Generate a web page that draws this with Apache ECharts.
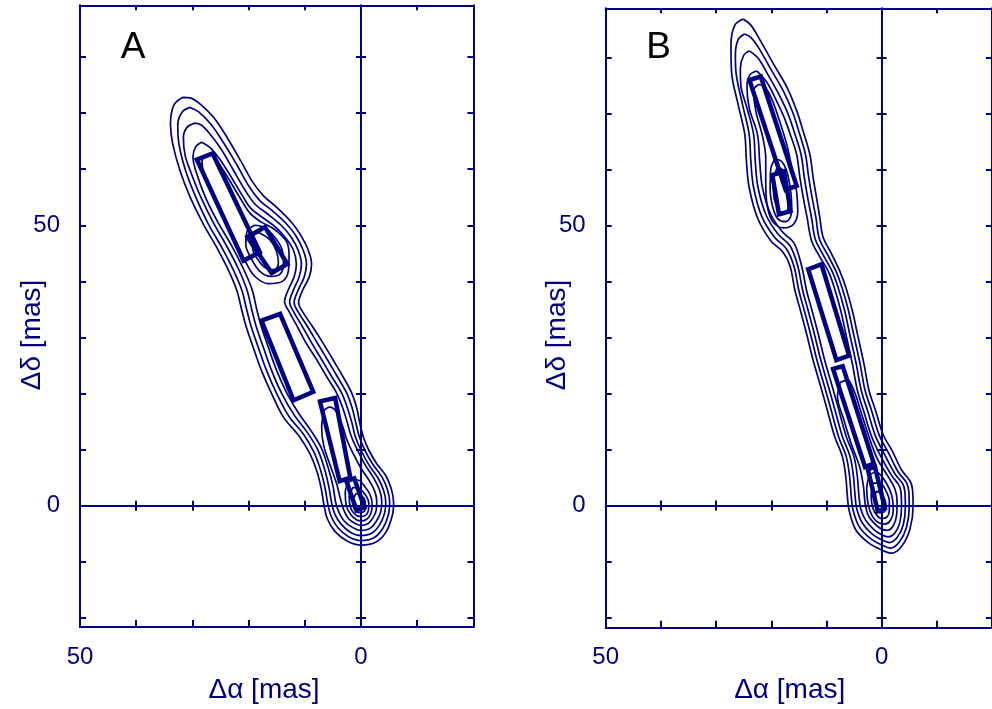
<!DOCTYPE html>
<html>
<head>
<meta charset="utf-8">
<script src="https://cdn.jsdelivr.net/npm/echarts@6/dist/echarts.min.js"></script>
<style>
html, body { margin: 0; padding: 0; background: #fff; overflow: hidden; }
#chart { width: 992px; height: 709px; }
</style>
</head>
<body>
<div id="chart"></div>
<script>
// Axis scales (mas); the right-ascension offset grows to the left
const xRange = [-20, 50];
const yRangeA = [-21.6, 89.2];
const yRangeB = [-21.8, 88.8];
const xTicks = [-20, -10, 0, 10, 20, 30, 40, 50];
const yTicks = [-20, -10, 0, 10, 20, 30, 40, 50, 60, 70, 80];
const xTickLabels = [50, 0];
const yTickLabels = [0, 50];
const panelNames = ['A', 'B'];
const xTitle = 'Δα [mas]';
const yTitle = 'Δδ [mas]';

// ---------- Panel A: model components (corner points, [Δα, Δδ] in mas) ----------
const compA1 = [[29.2, 61.7], [26.4, 62.8], [18.0, 45.2], [20.9, 43.7]];
const compA2 = [[20.2, 47.9], [17.1, 49.7], [13.1, 43.1], [15.9, 41.5]];
const compA3 = [[17.7, 33.0], [14.4, 34.2], [8.5, 20.3], [12.0, 18.8]];
const compA4 = [[7.3, 18.6], [4.6, 19.2], [1.9, 5.0], [3.8, 4.4]];
const compA5 = [[2.6, 4.4], [1.2, 4.9], [-0.6, -0.3], [0.8, -0.8]];

// ---------- Panel A: brightness contours ----------
const contA1 = [[31.7,72.8],[33.3,71.4],[33.9,68.0],[33.5,64.5],[32.2,59.7],[30.4,55.0],[28.1,50.3],[25.7,46.1],[23.6,42.0],[22.1,38.4],[21.2,34.8],[20.4,31.8],[19.2,28.3],[17.7,24.1],[15.9,20.0],[13.8,15.8],[11.0,12.4],[9.1,9.3],[7.9,6.3],[7.1,3.2],[6.6,0.2],[6.0,-2.3],[4.6,-4.6],[2.4,-6.3],[0,-7.0],[-2.6,-6.5],[-4.5,-4.6],[-5.6,-1.6],[-5.8,0.6],[-5.4,3.0],[-4.4,5.4],[-2.8,7.5],[-1.4,9.9],[-0.4,12.3],[0.2,14.7],[0.8,17.6],[1.7,20.2],[3.2,23.0],[4.9,25.9],[6.7,28.9],[8.6,31.9],[10.4,34.6],[11.1,36.2],[10.4,38.4],[9.2,40.8],[8.8,43.1],[9.4,45.6],[10.9,48.5],[12.6,50.8],[15.0,53.2],[17.3,55.2],[19.2,57.6],[21.3,61.3],[23.8,65.6],[26.2,69.2],[28.6,71.6],[30.4,72.7],[31.7,72.8]];
const contA2 = [[30.4,71.0],[31.8,70.2],[32.6,68.0],[32.4,64.5],[31.2,59.7],[29.4,55.0],[27.2,50.3],[24.8,46.1],[22.7,42.0],[21.2,38.4],[20.3,34.8],[19.5,31.8],[18.3,28.3],[16.8,24.1],[15.0,20.0],[12.8,15.9],[10.2,12.7],[8.4,9.6],[7.2,6.4],[6.4,3.2],[5.9,0.3],[5.3,-1.9],[4.1,-3.9],[2.2,-5.5],[0,-6.2],[-2.3,-5.7],[-3.9,-4.0],[-4.9,-1.5],[-5.1,0.6],[-4.7,2.9],[-3.7,5.2],[-2.1,7.4],[-0.7,9.9],[0.3,12.3],[0.9,14.7],[1.6,17.5],[2.6,20.2],[4.2,23.0],[5.9,25.9],[7.7,28.9],[9.5,31.9],[11.2,34.6],[11.9,36.2],[11.2,38.4],[10.1,40.8],[9.7,43.1],[10.3,45.6],[11.7,48.3],[13.4,50.4],[15.8,52.6],[18.0,54.4],[19.9,56.9],[22.0,60.6],[24.4,64.6],[26.7,68.0],[28.9,70.2],[30.4,71.0]];
const contA3 = [[29.6,68.2],[31.0,67.4],[31.6,65.6],[31.3,62.5],[30.3,59.5],[28.5,55.0],[26.3,50.5],[23.9,46.3],[21.8,42.2],[20.3,38.5],[19.4,34.8],[18.6,31.8],[17.4,28.3],[15.9,24.1],[14.1,20.0],[11.9,16.2],[9.5,13.0],[7.7,10.0],[6.5,6.6],[5.7,3.3],[5.2,0.4],[4.6,-1.6],[3.5,-3.3],[1.9,-4.7],[0,-5.3],[-1.9,-4.9],[-3.3,-3.4],[-4.2,-1.3],[-4.4,0.7],[-4.0,2.8],[-3.0,5.0],[-1.4,7.3],[0.0,9.9],[1.0,12.3],[1.6,14.7],[2.4,17.4],[3.5,20.2],[5.2,23.0],[6.9,25.9],[8.7,28.9],[10.4,31.9],[12.0,34.6],[12.7,36.3],[12.0,38.5],[11.0,40.8],[10.6,43.1],[11.2,45.6],[12.5,48.0],[14.2,50.0],[16.6,52.0],[18.8,53.7],[20.6,56.2],[22.7,59.8],[24.9,63.6],[27.0,66.4],[28.5,67.9],[29.6,68.2]];
const contA4 = [[28.4,64.8],[29.4,64.0],[29.9,62.2],[29.4,59.7],[27.7,55.0],[25.5,50.6],[23.1,46.5],[21.0,42.4],[19.4,38.6],[18.5,34.8],[17.7,31.8],[16.5,28.3],[15.0,24.1],[13.2,20.1],[11.1,16.5],[8.9,13.4],[7.1,10.4],[5.9,7.0],[5.0,3.6],[4.5,0.6],[3.9,-1.2],[3.0,-2.7],[1.6,-3.8],[0,-4.4],[-1.5,-4.1],[-2.7,-2.8],[-3.5,-1.1],[-3.7,0.8],[-3.3,2.8],[-2.3,4.9],[-0.8,7.2],[0.6,9.9],[1.7,12.3],[2.4,14.7],[3.2,17.3],[4.4,20.2],[6.1,23.0],[7.8,25.9],[9.7,28.9],[11.3,31.9],[12.8,34.6],[13.6,36.4],[12.9,38.6],[11.9,40.8],[11.5,43.1],[12.0,45.5],[13.3,47.6],[15.0,49.5],[17.4,51.3],[19.6,53.0],[21.3,55.6],[23.1,58.6],[25.0,61.6],[26.8,63.8],[28.4,64.8]];
const contA5 = [[27.6,62.6],[28.3,61.4],[27.9,59.0],[26.2,55.0],[24.3,51.0],[22.3,47.2],[20.6,43.6],[19.0,41.0],[16.5,39.6],[14.0,40.0],[12.9,42.0],[12.8,44.5],[13.2,47.0],[15.3,49.2],[17.8,50.6],[19.8,52.2],[21.6,55.0],[23.5,58.2],[25.3,61.0],[26.6,62.6],[27.6,62.6]];
const contA6 = [[19.0,50.0],[20.3,48.8],[20.5,46.6],[19.5,44.0],[18.0,41.8],[16.0,40.9],[14.4,41.3],[13.8,43.0],[14.0,45.5],[15.3,47.8],[17.2,49.6],[19.0,50.0]];
const contA7 = [[18.2,48.7],[19.3,47.8],[19.3,46.0],[18.3,43.8],[16.8,42.3],[15.3,42.1],[14.7,43.4],[15.1,45.5],[16.2,47.4],[18.2,48.7]];
const contA8 = [[6.6,17.0],[7.0,14.0],[6.6,10.6],[5.4,7.0],[4.3,3.8],[3.6,1.0],[3.0,-0.9],[2.2,-2.3],[1.1,-3.1],[0,-3.5],[-1.2,-3.2],[-2.1,-2.2],[-2.7,-0.8],[-2.8,0.9],[-2.4,2.7],[-1.4,4.6],[0.0,6.7],[1.5,9.5],[2.6,12.0],[3.3,14.3],[4.4,16.8],[5.6,17.6],[6.6,17.0]];
const contA9 = [[1.9,4.6],[2.8,2.5],[2.6,0.0],[1.8,-1.6],[0.8,-2.5],[0,-2.7],[-1.0,-2.4],[-1.7,-1.5],[-2.0,0.0],[-1.7,1.8],[-0.7,3.4],[0.6,4.6],[1.9,4.6]];
const contA10 = [[1.4,3.3],[2.1,1.6],[1.9,-0.2],[1.2,-1.4],[0.2,-1.9],[-0.8,-1.7],[-1.3,-0.9],[-1.4,0.4],[-0.9,1.8],[0.2,3.0],[1.4,3.3]];
const contA11 = [[0.9,2.2],[1.4,0.9],[1.2,-0.5],[0.4,-1.2],[-0.4,-1.1],[-0.8,-0.3],[-0.7,0.9],[-0.1,1.8],[0.9,2.2]];

// ---------- Panel B: model components ----------
const compB1 = [[23.95, 76.0], [21.9, 76.6], [15.4, 57.1], [17.4, 56.4]];
const compB2 = [[19.8, 59.0], [17.7, 59.7], [16.5, 52.6], [18.6, 52.0]];
const compB3 = [[13.3, 42.2], [10.9, 43.1], [5.9, 26.8], [8.2, 26.0]];
const compB4 = [[8.8, 24.4], [7.05, 24.9], [1.4, 7.5], [3.0, 6.9]];
const compB5 = [[2.5, 6.5], [1.2, 6.9], [-0.6, -0.5], [0.7, -1.0]];

// ---------- Panel B: brightness contours ----------
const contB1 = [[25.1,86.9],[26.6,85.8],[27.3,82.3],[27.2,77.5],[26.0,71.6],[24.8,66.3],[24.5,61.5],[24.0,56.8],[22.5,51.4],[20.1,47.3],[17.9,45.3],[16.6,42.8],[15.7,38.4],[14.7,34.8],[13.6,30.7],[12.4,25.9],[11.2,21.8],[10.0,17.6],[8.5,12.3],[7.1,8.7],[6.5,5.2],[6.2,1.6],[5.9,-0.8],[4.7,-4.3],[2.3,-6.7],[0,-7.9],[-1.8,-8.5],[-3.6,-7.3],[-5.1,-4.3],[-5.7,-0.2],[-5.6,2.8],[-5.2,4.3],[-3.6,6.4],[-1.85,9.9],[-0.3,12.6],[1.1,17.0],[2.3,20.6],[3.2,25.3],[4.4,30.7],[5.3,34.8],[6.5,39.0],[7.6,41.9],[9.1,45.0],[10.6,47.9],[11.2,51.4],[11.8,55.0],[12.4,58.5],[13.0,62.7],[14.2,66.8],[15.35,70.4],[17.1,74.6],[19.5,78.7],[21.9,82.9],[23.7,85.8],[25.1,86.9]];
const contB2 = [[24.85,84.2],[26.0,83.2],[26.5,80.5],[26.4,77.5],[25.2,71.6],[24.0,66.3],[23.7,61.5],[23.2,56.8],[21.7,51.6],[19.4,47.9],[17.3,45.9],[15.9,42.8],[15.0,38.4],[14.0,34.8],[12.9,30.7],[11.7,25.9],[10.5,21.8],[9.3,17.6],[7.8,12.3],[6.4,8.7],[5.8,5.2],[5.5,1.6],[5.2,-0.7],[4.1,-3.7],[2.0,-5.9],[0,-7.0],[-1.6,-7.6],[-3.2,-6.5],[-4.5,-3.9],[-5.0,-0.2],[-4.9,2.7],[-4.5,4.1],[-3.0,6.0],[-1.2,9.5],[0.4,12.5],[1.8,16.9],[3.0,20.6],[3.9,25.3],[5.1,30.7],[6.0,34.8],[7.2,39.0],[8.3,41.9],[9.8,44.8],[11.3,47.7],[11.9,51.4],[12.6,55.0],[13.2,58.5],[13.8,62.7],[15.0,66.8],[16.1,70.2],[17.8,74.0],[20.0,77.8],[22.2,81.6],[23.7,83.6],[24.85,84.2]];
const contB3 = [[23.96,81.2],[25.0,80.4],[25.6,78.0],[25.5,75.0],[24.4,71.0],[23.2,66.3],[22.9,61.5],[22.4,56.8],[20.9,51.8],[18.7,48.4],[16.6,46.4],[15.2,42.8],[14.3,38.4],[13.3,34.8],[12.2,30.7],[11.0,25.9],[9.8,21.8],[8.6,17.6],[7.1,12.3],[5.7,8.7],[5.1,5.2],[4.8,1.6],[4.5,-0.6],[3.5,-3.1],[1.7,-5.1],[0,-6.1],[-1.4,-6.6],[-2.8,-5.7],[-3.9,-3.5],[-4.3,-0.2],[-4.2,2.6],[-3.8,3.9],[-2.4,5.7],[-0.5,9.2],[1.1,12.4],[2.5,16.8],[3.7,20.6],[4.6,25.3],[5.8,30.7],[6.7,34.8],[7.9,39.0],[9.0,41.9],[10.5,44.6],[12.0,47.5],[12.7,51.4],[13.4,55.0],[14.0,58.5],[14.6,62.7],[15.8,66.6],[16.9,69.8],[18.5,73.2],[20.4,76.6],[22.3,79.8],[23.96,81.2]];
const contB4 = [[22.6,77.6],[23.8,77.0],[24.4,75.0],[24.0,71.0],[22.5,66.3],[22.1,61.5],[21.6,56.8],[20.1,52.0],[18.0,48.9],[15.9,46.9],[14.5,42.8],[13.6,38.4],[12.6,34.8],[11.5,30.7],[10.3,25.9],[9.1,21.8],[7.9,17.6],[6.4,12.3],[5.0,8.7],[4.4,5.2],[4.1,1.6],[3.8,-0.5],[2.9,-2.6],[1.4,-4.3],[0,-5.2],[-1.2,-5.6],[-2.4,-4.9],[-3.3,-3.0],[-3.6,-0.2],[-3.5,2.5],[-3.1,3.7],[-1.8,5.4],[0.2,8.9],[1.8,12.3],[3.2,16.7],[4.4,20.6],[5.3,25.3],[6.5,30.7],[7.4,34.8],[8.6,39.0],[9.7,41.9],[11.2,44.4],[12.7,47.3],[13.5,51.4],[14.2,55.0],[14.8,58.5],[15.4,62.7],[16.6,66.4],[17.7,69.4],[19.2,72.6],[20.8,75.6],[22.6,77.6]];
const contB5 = [[22.3,75.2],[23.2,74.2],[22.8,70.5],[21.6,66.0],[21.0,62.0],[21.0,58.0],[20.8,54.0],[19.8,50.8],[17.8,49.6],[16.0,50.2],[15.2,52.5],[15.4,56.0],[16.2,60.0],[17.2,64.5],[18.6,69.0],[20.0,72.8],[21.2,74.8],[22.3,75.2]];
const contB6 = [[19.4,61.8],[20.1,60.0],[20.2,56.5],[19.7,53.2],[18.8,51.2],[17.4,50.7],[16.5,51.6],[16.3,53.8],[16.6,57.0],[17.3,60.0],[18.3,61.6],[19.4,61.8]];
const contB7 = [[19.0,60.2],[19.5,58.6],[19.6,56.0],[19.1,53.6],[18.2,52.3],[17.3,52.4],[16.9,54.0],[17.1,56.6],[17.6,59.0],[18.3,60.2],[19.0,60.2]];
const contB8 = [[7.5,22.0],[8.0,19.5],[6.9,15.5],[5.5,11.0],[4.0,7.0],[3.3,3.5],[3.0,0.5],[2.4,-1.8],[1.2,-3.3],[0,-4.2],[-1.1,-4.4],[-2.1,-3.6],[-2.7,-1.8],[-2.8,0.8],[-2.4,3.0],[-1.3,5.0],[0.8,8.4],[2.3,12.3],[3.7,16.6],[5.0,20.5],[6.2,22.4],[7.5,22.0]];
const contB9 = [[2.2,5.5],[2.7,3.0],[2.4,0.0],[1.6,-2.0],[0.6,-3.0],[-0.6,-3.3],[-1.6,-2.6],[-2.1,-1.0],[-2.0,1.0],[-1.4,3.0],[-0.2,5.0],[1.0,6.0],[2.2,5.5]];
const contB10 = [[1.6,4.0],[1.9,1.8],[1.6,-0.4],[0.9,-1.7],[0,-2.3],[-1.0,-2.0],[-1.4,-0.8],[-1.4,0.8],[-0.8,2.6],[0.3,4.0],[1.6,4.0]];
const contB11 = [[1.0,2.6],[1.2,0.8],[0.9,-0.6],[0.2,-1.3],[-0.5,-1.1],[-0.8,-0.2],[-0.6,1.0],[0.0,2.2],[1.0,2.6]];

const componentsA = [compA1, compA2, compA3, compA4, compA5];
const contoursA = [contA1, contA2, contA3, contA4, contA5, contA6, contA7, contA8, contA9, contA10, contA11];
const componentsB = [compB1, compB2, compB3, compB4, compB5];
const contoursB = [contB1, contB2, contB3, contB4, contB5, contB6, contB7, contB8, contB9, contB10, contB11];

// ---------- styling ----------
const NAVY = '#000080';
const FONT = '"Liberation Sans", Arial, Helvetica, sans-serif';

const grids = [
  { left: 80, top: 5.3, width: 393.4, height: 621.7 },
  { left: 605.7, top: 8.3, width: 392.8, height: 619.4 }
];

// Each panel has a bottom/top/left/right frame plus a cross of axes through the origin
function panelAxes(gi, yRange, xBase, yBase) {
  const tick = (inside, len, vals) => ({ show: true, inside, length: len, customValues: vals,
    lineStyle: { color: NAVY, width: 2 } });
  const line = (show, onZero, idx) => ({ show, onZero, onZeroAxisIndex: idx,
    lineStyle: { color: NAVY, width: 2 } });
  const base = { type: 'value', gridIndex: gi, splitLine: { show: false }, silent: true };
  const xa = Object.assign({}, base, { min: xRange[0], max: xRange[1], inverse: true });
  const ya = Object.assign({}, base, { min: yRange[0], max: yRange[1] });
  const noLabel = { show: false };
  const xs = [
    Object.assign({}, xa, { position: 'bottom', axisLine: line(true, false), axisTick: tick(true, 7, xTicks),
      axisLabel: { show: true, customValues: xTickLabels, margin: 18, color: NAVY, fontSize: 24, fontFamily: FONT } }),
    Object.assign({}, xa, { position: 'top', axisLine: line(true, false), axisTick: tick(true, 5, xTicks), axisLabel: noLabel }),
    Object.assign({}, xa, { position: 'bottom', axisLine: line(true, true, yBase), axisTick: tick(true, 5, xTicks), axisLabel: noLabel }),
    Object.assign({}, xa, { position: 'bottom', axisLine: line(false, true, yBase), axisTick: tick(false, 5, xTicks), axisLabel: noLabel })
  ];
  const ys = [
    Object.assign({}, ya, { position: 'left', axisLine: line(true, false), axisTick: tick(true, 6, yTicks),
      axisLabel: { show: true, customValues: yTickLabels, margin: 20, color: NAVY, fontSize: 24, fontFamily: FONT } }),
    Object.assign({}, ya, { position: 'right', axisLine: line(true, false), axisTick: tick(true, 6, yTicks), axisLabel: noLabel }),
    Object.assign({}, ya, { position: 'left', axisLine: line(true, true, xBase), axisTick: tick(true, 5, yTicks), axisLabel: noLabel }),
    Object.assign({}, ya, { position: 'left', axisLine: line(false, true, xBase), axisTick: tick(false, 5, yTicks), axisLabel: noLabel })
  ];
  return { xs, ys };
}

const axA = panelAxes(0, yRangeA, 0, 0);
const axB = panelAxes(1, yRangeB, 4, 4);

function contourSeries(pts, axisIdx) {
  return { type: 'line', xAxisIndex: axisIdx, yAxisIndex: axisIdx, data: pts,
    smooth: 0.35, symbol: 'none', silent: true, z: 3,
    lineStyle: { color: NAVY, width: 1.7 } };
}
function componentSeries(corners, axisIdx) {
  return { type: 'line', xAxisIndex: axisIdx, yAxisIndex: axisIdx, data: corners.concat([corners[0]]),
    symbol: 'none', silent: true, z: 4,
    lineStyle: { color: NAVY, width: 4.5, join: 'miter', cap: 'square' } };
}

const series = []
  .concat(contoursA.map(c => contourSeries(c, 0)))
  .concat(componentsA.map(c => componentSeries(c, 0)))
  .concat(contoursB.map(c => contourSeries(c, 4)))
  .concat(componentsB.map(c => componentSeries(c, 4)));

// Panel letters and axis titles, placed relative to each panel's frame
const titleText = (text, x, y, rot, size, color) => ({ type: 'text', x, y, rotation: rot, silent: true,
  style: { text, fontSize: size, fill: color, fontFamily: FONT, align: 'center', verticalAlign: 'middle' } });
const graphics = [];
grids.forEach((g, i) => {
  graphics.push(titleText(panelNames[i], g.left + 53, 48, 0, 37, '#000'));
  graphics.push(titleText(xTitle, g.left + 184, 690, 0, 28, NAVY));
  graphics.push(titleText(yTitle, g.left - 48, 335, Math.PI / 2, 28, NAVY));
});

const chart = echarts.init(document.getElementById('chart'), null, { renderer: 'canvas' });
chart.setOption({
  animation: false,
  backgroundColor: '#fff',
  grid: grids,
  xAxis: axA.xs.concat(axB.xs),
  yAxis: axA.ys.concat(axB.ys),
  graphic: graphics,
  series
});
</script>
</body>
</html>
